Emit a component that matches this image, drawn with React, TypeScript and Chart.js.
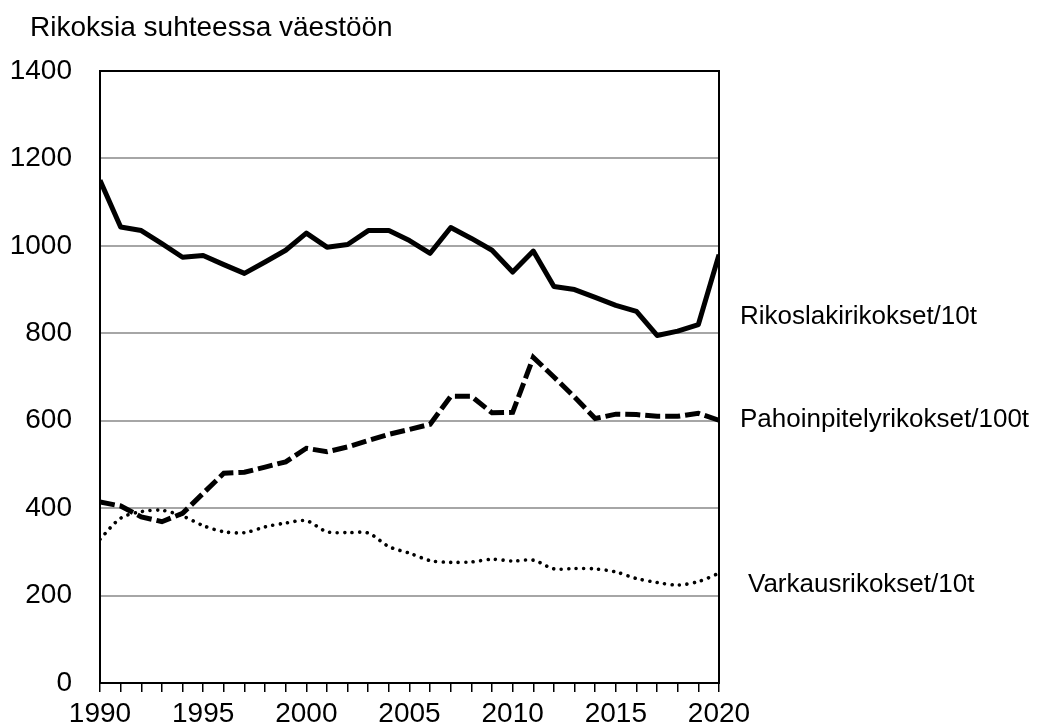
import React, { useEffect, useRef } from "react";
import { Chart, registerables } from "chart.js";

Chart.register(...registerables);

const years: number[] = [
  1990, 1991, 1992, 1993, 1994, 1995, 1996, 1997, 1998, 1999, 2000, 2001, 2002, 2003, 2004, 2005,
  2006, 2007, 2008, 2009, 2010, 2011, 2012, 2013, 2014, 2015, 2016, 2017, 2018, 2019, 2020,
];

const rikoslaki: number[] = [
  1150, 1043, 1035, 1005, 974, 978, 957, 937, 963, 990, 1029, 997, 1003, 1035, 1035, 1012,
  983, 1042, 1017, 990, 940, 988, 907, 900, 882, 864, 850, 795, 805, 820, 980,
];

const pahoinpitely: number[] = [
  414, 405, 380, 369, 388, 434, 480, 482, 494, 506, 537, 529, 540, 555, 569, 580,
  592, 656, 656, 618, 619, 745, 700, 654, 605, 615, 614, 610, 610, 617, 601,
];

const varkaus: number[] = [
  329, 377, 392, 395, 382, 360, 346, 344, 357, 366, 371, 346, 344, 343, 312, 297,
  280, 276, 277, 283, 279, 281, 261, 262, 261, 254, 239, 230, 224, 232, 251,
];

const titleText = "Rikoksia suhteessa väestöön";
const seriesLabels: string[] = ["Rikoslakirikokset/10t", "Pahoinpitelyrikokset/100t", "Varkausrikokset/10t"];
const labelYValues: number[] = [837, 603, 224];
const labelXOffsets: number[] = [21, 21, 29];

const FONT = "'Liberation Sans', Arial, sans-serif";

export default function App() {
  const ref = useRef<HTMLCanvasElement | null>(null);

  useEffect(() => {
    document.body.style.margin = "0";
    const canvas = ref.current;
    if (!canvas) return;

    const textPlugin = {
      id: "customText",
      afterDraw(chart: any) {
        const ctx = chart.ctx;
        const area = chart.chartArea;
        const ys = chart.scales.y;
        ctx.save();
        ctx.strokeStyle = "#000";
        ctx.lineWidth = 2;
        ctx.strokeRect(area.left, area.top, area.right - area.left, area.bottom - area.top);
        ctx.fillStyle = "#000";
        ctx.textBaseline = "alphabetic";
        ctx.textAlign = "left";
        ctx.font = `28px ${FONT}`;
        ctx.fillText(titleText, 30, 36);
        ctx.font = `26px ${FONT}`;
        ctx.textBaseline = "middle";
        seriesLabels.forEach((t, i) => {
          ctx.fillText(t, area.right + labelXOffsets[i], ys.getPixelForValue(labelYValues[i]));
        });
        ctx.restore();
      },
    };

    const chart = new Chart(canvas, {
      type: "line",
      data: {
        labels: years,
        datasets: [
          {
            label: seriesLabels[0],
            data: years.map((x, i) => ({ x, y: rikoslaki[i] })),
            borderColor: "#000",
            borderWidth: 5,
            pointRadius: 0,
            tension: 0,
            borderJoinStyle: "round",
          },
          {
            label: seriesLabels[1],
            data: years.map((x, i) => ({ x, y: pahoinpitely[i] })),
            borderColor: "#000",
            borderWidth: 5,
            borderDash: [15, 5],
            pointRadius: 0,
            tension: 0,
          },
          {
            label: seriesLabels[2],
            data: years.map((x, i) => ({ x, y: varkaus[i] })),
            borderColor: "#000",
            borderWidth: 3.6,
            borderDash: [0.01, 7.5],
            borderCapStyle: "round",
            pointRadius: 0,
            tension: 0.3,
          },
        ],
      },
      options: {
        animation: false,
        responsive: false,
        maintainAspectRatio: false,
        layout: { padding: { top: 71, right: 321, left: 0, bottom: 0 } },
        plugins: { legend: { display: false }, title: { display: false }, tooltip: { enabled: false } },
        scales: {
          x: {
            type: "linear",
            min: 1990,
            max: 2020,
            afterFit: (s: any) => {
              s.height = 45;
            },
            ticks: {
              stepSize: 1,
              autoSkip: false,
              maxRotation: 0,
              color: "#000",
              font: { family: FONT, size: 28 },
              padding: 5,
              callback: (v: any) => (Number(v) % 5 === 0 ? String(v) : ""),
            },
            grid: { drawOnChartArea: false, drawTicks: true, tickLength: 9, color: "#000", lineWidth: 1.5 },
            border: { display: true, color: "#000", width: 2 },
          },
          y: {
            min: 0,
            max: 1400,
            afterFit: (s: any) => {
              s.width = 100;
            },
            ticks: {
              stepSize: 200,
              color: "#000",
              font: { family: FONT, size: 28 },
              padding: 28,
              callback: (v: any) => String(v),
            },
            grid: {
              drawTicks: false,
              color: (c: any) => (c.tick && (c.tick.value === 0 || c.tick.value === 1400) ? "rgba(0,0,0,0)" : "#a6a6a6"),
              lineWidth: 2,
            },
            border: { display: true, color: "#000", width: 2 },
          },
        },
      },
      plugins: [textPlugin],
    } as any);

    return () => chart.destroy();
  }, []);

  return (
    <div style={{ position: "absolute", left: 0, top: 0, width: 1040, height: 728, background: "#fff" }}>
      <canvas ref={ref} width={1040} height={728} style={{ width: 1040, height: 728 }} />
    </div>
  );
}
